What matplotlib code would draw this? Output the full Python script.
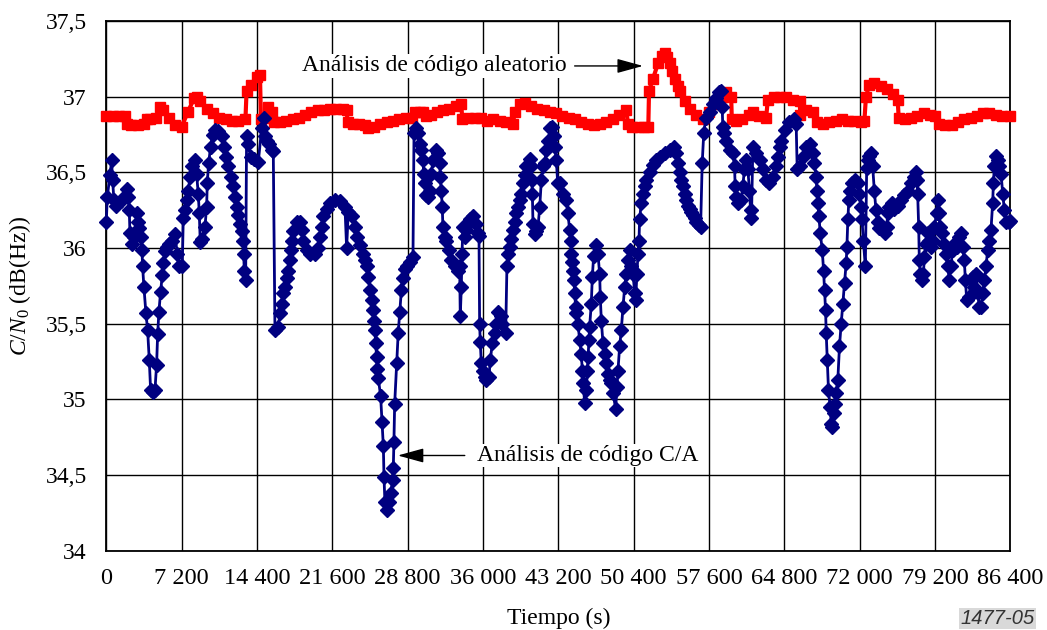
import matplotlib
matplotlib.use('Agg')
import matplotlib.pyplot as plt

# ---------------- data ----------------
t_ca = [0, 100, 350, 510, 600, 730, 920, 1150, 1370, 1620, 1940, 2100, 2200, 2260, 2490, 2680, 2960, 3060, 3150, 3280,
        3410, 3470, 3600, 3790, 3950, 4110, 4240, 4430, 4650, 4810, 4910, 5030, 5190, 5350, 5450, 5610, 5770, 5990, 6240, 6560,
        6790, 6950, 7260, 7360, 7520, 7680, 7840, 8000, 8220, 8470, 8630, 8790, 8890, 8980, 9180, 9430, 9590, 9650, 9780, 9970,
        10160, 10390, 10700, 11020, 11250, 11440, 11660, 11920, 12140, 12300, 12460, 12620, 12780, 12940, 13030, 13130, 13190, 13320, 13410, 13570,
        13800, 14110, 14530, 14850, 15070, 15160, 15320, 15580, 15800, 15960, 16120, 16440, 16600, 16760, 16920, 17080, 17240, 17390, 17550, 17620,
        17710, 17870, 18190, 18510, 18670, 18830, 19150, 19470, 19940, 20260, 20420, 20580, 20740, 21060, 21380, 21850, 22330, 22810, 22970, 23130,
        23450, 23770, 23990, 24250, 24560, 24720, 24880, 25040, 25200, 25360, 25460, 25580, 25680, 25740, 25840, 25900, 26000, 26220, 26350, 26480,
        26540, 26630, 26790, 27050, 27180, 27370, 27430, 27490, 27560, 27750, 27900, 28050, 28200, 28320, 28550, 28710, 28990, 29310, 29410, 29630,
        29790, 29950, 30110, 30270, 30330, 30430, 30520, 30740, 30900, 31060, 31220, 31480, 31700, 31860, 31920, 32020, 32110, 32170, 32340, 32500,
        32750, 32970, 33290, 33610, 33770, 33830, 33930, 33990, 34090, 34250, 34410, 34570, 34790, 35040, 35360, 35520, 35620, 35680, 35740, 35840,
        36000, 36160, 36320, 36570, 36700, 36890, 37120, 37270, 37470, 37690, 37850, 38170, 38290, 38390, 38550, 38710, 38870, 39030, 39190, 39350,
        39510, 39660, 39820, 39980, 40140, 40460, 40560, 40650, 40720, 40780, 40940, 41100, 41260, 41420, 41580, 41740, 41900, 42050, 42210, 42440,
        42630, 42750, 42880, 43010, 43140, 43330, 43650, 43960, 44120, 44280, 44380, 44440, 44540, 44600, 44700, 44760, 44860, 44920, 45080, 45240,
        45400, 45490, 45560, 45720, 45880, 45970, 46040, 46130, 46190, 46350, 46450, 46580, 46830, 46990, 47150, 47210, 47310, 47470, 47630, 47790,
        47950, 48110, 48270, 48430, 48680, 48810, 48900, 49060, 49220, 49380, 49540, 49700, 49860, 50020, 50180, 50340, 50500, 50590, 50720, 50810,
        50910, 50970, 51130, 51290, 51450, 51610, 51930, 52250, 52570, 52890, 53360, 53840, 54220, 54410, 54640, 54800, 54960, 55120, 55270, 55430,
        55590, 55750, 55910, 56070, 56230, 56390, 56650, 56800, 56950, 57100, 57300, 57650, 58000, 58300, 58600, 58760, 58860, 58920, 59080, 59240,
        59560, 59880, 60040, 60100, 60200, 60360, 60670, 60830, 60990, 61150, 61310, 61470, 61570, 61660, 61790, 62110, 62430, 62740, 63060, 63380,
        63700, 64020, 64180, 64340, 64500, 64820, 65290, 65770, 65930, 66030, 66250, 66570, 66890, 67210, 67530, 67680, 67840, 67910, 68000, 68100,
        68230, 68420, 68550, 68640, 68740, 68800, 68900, 69020, 69180, 69280, 69370, 69500, 69600, 69750, 69910, 70070, 70230, 70390, 70550, 70710,
        70780, 70870, 70970, 71100, 71290, 71510, 71830, 71970, 72130, 72220, 72350, 72540, 72670, 72760, 72920, 73080, 73240, 73400, 73560, 73720,
        73880, 74200, 74450, 74580, 74680, 74840, 75090, 75310, 75630, 75950, 76270, 76590, 76910, 77230, 77380, 77480, 77540, 77640, 77700, 77800,
        77960, 78090, 78180, 78340, 78500, 78660, 78820, 78980, 79140, 79360, 79460, 79550, 79680, 79870, 80030, 80250, 80410, 80570, 80730, 80890,
        81050, 81270, 81530, 81690, 81840, 82000, 82100, 82230, 82480, 82640, 82800, 82960, 83120, 83280, 83440, 83600, 83760, 83920, 84080, 84230,
        84390, 84550, 84710, 84780, 84870, 85030, 85190, 85350, 85510, 85670, 85830, 85990, 86240, 86400]
v_ca = [36.17, 36.34, 36.48, 36.58, 36.45, 36.32, 36.28, 36.30, 36.31, 36.33, 36.39, 36.34, 36.25, 36.10, 36.03, 36.07, 36.23, 36.17, 36.13, 36.07,
        35.99, 35.88, 35.74, 35.57, 35.46, 35.26, 35.06, 35.05, 35.06, 35.23, 35.43, 35.58, 35.71, 35.82, 35.90, 35.98, 36.01, 36.03, 36.05, 36.09,
        35.96, 35.88, 35.88, 36.20, 36.25, 36.32, 36.38, 36.47, 36.54, 36.58, 36.49, 36.36, 36.23, 36.04, 36.06, 36.14, 36.27, 36.43, 36.56, 36.67,
        36.75, 36.78, 36.77, 36.74, 36.67, 36.60, 36.54, 36.47, 36.41, 36.34, 36.27, 36.22, 36.16, 36.11, 36.05, 35.96, 35.85, 35.79, 36.74, 36.69,
        36.60, 36.59, 36.57, 36.79, 36.86, 36.74, 36.71, 36.69, 36.65, 36.64, 35.46, 35.48, 35.57, 35.63, 35.70, 35.74, 35.80, 35.85, 35.92, 35.99,
        36.05, 36.11, 36.17, 36.17, 36.12, 36.05, 35.99, 35.96, 35.96, 36.00, 36.07, 36.14, 36.21, 36.26, 36.30, 36.32, 36.31, 36.27, 36.00, 36.24,
        36.21, 36.14, 36.07, 36.02, 35.96, 35.92, 35.88, 35.81, 35.72, 35.66, 35.59, 35.52, 35.46, 35.37, 35.28, 35.20, 35.14, 35.02, 34.85, 34.69,
        34.49, 34.32, 34.27, 34.32, 34.38, 34.47, 34.55, 34.72, 34.97, 35.24, 35.44, 35.58, 35.72, 35.80, 35.86, 35.88, 35.91, 35.94, 36.76, 36.79,
        36.76, 36.69, 36.65, 36.58, 36.49, 36.43, 36.35, 36.34, 36.38, 36.49, 36.58, 36.65, 36.63, 36.56, 36.47, 36.38, 36.27, 36.14, 36.07, 36.05,
        35.99, 35.92, 35.88, 35.85, 35.88, 35.55, 35.74, 35.96, 36.14, 36.07, 36.12, 36.16, 36.19, 36.21, 36.16, 36.10, 36.08, 35.50, 35.38, 35.24,
        35.19, 35.15, 35.13, 35.15, 35.26, 35.37, 35.44, 35.50, 35.58, 35.55, 35.50, 35.44, 35.88, 35.96, 36.01, 36.06, 36.12, 36.17, 36.23, 36.27,
        36.32, 36.36, 36.43, 36.48, 36.54, 36.59, 36.54, 36.45, 36.36, 36.16, 36.09, 36.11, 36.14, 36.27, 36.45, 36.54, 36.56, 36.65, 36.71, 36.79,
        36.80, 36.74, 36.67, 36.58, 36.43, 36.43, 36.36, 36.32, 36.23, 36.12, 36.05, 35.96, 35.91, 35.85, 35.79, 35.70, 35.61, 35.57, 35.50, 35.39,
        35.30, 35.19, 35.11, 34.98, 35.06, 35.19, 35.28, 35.39, 35.48, 35.63, 35.81, 35.95, 36.02, 35.96, 35.83, 35.68, 35.52, 35.37, 35.30, 35.24,
        35.17, 35.13, 35.11, 35.04, 34.94, 35.08, 35.19, 35.35, 35.46, 35.61, 35.74, 35.83, 35.92, 35.99, 35.88, 35.83, 35.70, 35.66, 35.83, 35.96,
        36.05, 36.19, 36.30, 36.36, 36.41, 36.45, 36.50, 36.55, 36.58, 36.60, 36.63, 36.65, 36.67, 36.63, 36.56, 36.50, 36.45, 36.41, 36.36, 36.32,
        36.28, 36.26, 36.24, 36.22, 36.20, 36.17, 36.15, 36.14, 36.56, 36.76, 36.86, 36.90, 36.95, 36.99, 37.03, 37.04, 36.93, 36.80, 36.76, 36.71,
        36.65, 36.63, 36.54, 36.41, 36.34, 36.30, 36.32, 36.41, 36.52, 36.58, 36.52, 36.38, 36.25, 36.20, 36.67, 36.63, 36.58, 36.52, 36.45, 36.43,
        36.47, 36.54, 36.60, 36.67, 36.71, 36.78, 36.83, 36.85, 36.82, 36.52, 36.54, 36.60, 36.67, 36.69, 36.63, 36.56, 36.47, 36.38, 36.30, 36.21,
        36.10, 35.99, 35.85, 35.72, 35.59, 35.44, 35.26, 35.06, 34.95, 34.84, 34.82, 34.91, 34.97, 35.04, 35.13, 35.35, 35.50, 35.63, 35.77, 35.90,
        36.01, 36.19, 36.32, 36.38, 36.43, 36.45, 36.43, 36.36, 36.27, 36.19, 36.05, 35.88, 36.53, 36.58, 36.61, 36.63, 36.54, 36.38, 36.25, 36.17,
        36.13, 36.12, 36.10, 36.14, 36.23, 36.27, 36.30, 36.26, 36.28, 36.32, 36.35, 36.38, 36.43, 36.47, 36.50, 36.45, 36.36, 36.14, 35.92, 35.83,
        35.79, 35.83, 35.94, 36.03, 36.10, 36.05, 36.01, 36.05, 36.14, 36.23, 36.32, 36.23, 36.14, 36.10, 36.03, 35.96, 35.88, 35.79, 35.88, 35.99,
        36.03, 36.01, 36.07, 36.10, 36.01, 35.92, 35.79, 35.66, 35.68, 35.79, 35.81, 35.74, 35.83, 35.70, 35.61, 35.61, 35.70, 35.79, 35.88, 35.99,
        36.05, 36.12, 36.30, 36.43, 36.54, 36.61, 36.58, 36.54, 36.49, 36.36, 36.25, 36.17, 36.17, 36.18]

t_rand = [0, 600, 1200, 1800, 2010, 2400, 3000, 3600, 3850, 4200, 4800, 5100, 5400, 6000, 6600, 7200, 7800, 8400, 8700, 9000,
          9600, 10200, 10800, 11400, 12000, 12600, 13300, 13410, 13800, 14400, 14690, 14780, 15160, 15480, 15800, 16020, 16600, 17200, 17800, 18400,
          19000, 19600, 20200, 20800, 21400, 22000, 22600, 22970, 23070, 23600, 24200, 24720, 25040, 25600, 26200, 26800, 27400, 28000, 28600, 29200,
          29470, 30000, 30270, 30520, 31000, 31600, 32200, 32800, 33400, 33930, 34020, 34600, 35200, 35800, 36400, 37000, 37600, 38200, 38870, 39030,
          39500, 40000, 40600, 41200, 41800, 42400, 43000, 43600, 44200, 44800, 45400, 46000, 46600, 47200, 47800, 48400, 49000, 49700, 49860, 50200,
          50800, 51400, 51800, 51870, 52250, 52730, 53100, 53360, 53600, 53840, 54100, 54320, 54600, 54800, 55270, 55750, 56390, 57000, 57600, 58200,
          58800, 59240, 59720, 59780, 60200, 60800, 61400, 61800, 62400, 63060, 63220, 63800, 64400, 65000, 65600, 66250, 66340, 66900, 67500, 67900,
          68500, 69100, 69700, 70300, 70900, 71500, 72100, 72450, 72600, 72920, 73400, 74000, 74600, 75200, 75630, 75730, 76300, 76900, 77500, 78100,
          78700, 79200, 79610, 80200, 80800, 81400, 82000, 82600, 83200, 83760, 84400, 85000, 85600, 86400]
v_rand = [36.87, 36.87, 36.87, 36.87, 36.82, 36.81, 36.81, 36.82, 36.85, 36.85, 36.86, 36.93, 36.91, 36.86, 36.81, 36.80, 36.90, 36.99, 37.00, 36.97,
          36.92, 36.89, 36.86, 36.85, 36.84, 36.84, 36.85, 37.04, 37.08, 37.13, 37.14, 36.85, 36.86, 36.93, 36.90, 36.83, 36.83, 36.84, 36.85, 36.86,
          36.88, 36.90, 36.91, 36.91, 36.92, 36.92, 36.92, 36.91, 36.83, 36.82, 36.82, 36.81, 36.79, 36.80, 36.82, 36.83, 36.84, 36.85, 36.86, 36.86,
          36.90, 36.90, 36.90, 36.87, 36.88, 36.90, 36.91, 36.92, 36.94, 36.95, 36.85, 36.86, 36.86, 36.86, 36.84, 36.85, 36.84, 36.83, 36.82, 36.90,
          36.95, 36.96, 36.94, 36.92, 36.91, 36.90, 36.89, 36.87, 36.86, 36.85, 36.83, 36.82, 36.81, 36.82, 36.83, 36.85, 36.88, 36.91, 36.82, 36.80,
          36.80, 36.80, 36.80, 37.04, 37.12, 37.22, 37.27, 37.29, 37.26, 37.22, 37.17, 37.12, 37.07, 37.04, 36.97, 36.92, 36.88, 36.85, 36.90, 36.95,
          37.00, 37.03, 37.00, 36.85, 36.84, 36.85, 36.88, 36.90, 36.87, 36.86, 36.98, 37.00, 37.00, 37.00, 36.98, 36.97, 36.88, 36.91, 36.90, 36.83,
          36.82, 36.83, 36.84, 36.85, 36.84, 36.84, 36.83, 36.84, 37.00, 37.08, 37.09, 37.07, 37.05, 37.02, 36.98, 36.86, 36.85, 36.86, 36.87, 36.89,
          36.88, 36.87, 36.82, 36.81, 36.81, 36.83, 36.85, 36.86, 36.87, 36.89, 36.89, 36.88, 36.87, 36.87]

x_ticks = [0, 7200, 14400, 21600, 28800, 36000, 43200, 50400, 57600, 64800, 72000, 79200, 86400]
x_tick_labels = ['0', '7 200', '14 400', '21 600', '28 800', '36 000', '43 200', '50 400',
                 '57 600', '64 800', '72 000', '79 200', '86 400']
y_ticks = [34, 34.5, 35, 35.5, 36, 36.5, 37, 37.5]
y_tick_labels = ['34', '34,5', '35', '35,5', '36', '36,5', '37', '37,5']

label_rand = 'Análisis de código aleatorio'
label_ca = 'Análisis de código C/A'

# ---------------- plot ----------------
plt.rcParams['font.family'] = ['Liberation Serif', 'DejaVu Serif']
plt.rcParams['mathtext.fontset'] = 'custom'
plt.rcParams['mathtext.rm'] = 'Liberation Serif'
plt.rcParams['mathtext.it'] = 'Liberation Serif:italic'

fig = plt.figure(figsize=(10.47, 6.30), dpi=100)
ax = fig.add_axes([0.1015, 0.1256, 0.8635, 0.8411])

ax.plot(t_rand, v_rand, color='#FF0000', lw=3, marker='s', ms=7.5, mec='#FF0000', zorder=3, clip_on=False)
ax.plot(t_ca, v_ca, color='#000080', lw=2, marker='D', ms=7, mec='#000080', zorder=4, clip_on=False)

ax.set_xlim(0, 86400)
ax.set_ylim(34, 37.5)
ax.set_xticks(x_ticks)
ax.set_xticklabels(x_tick_labels)
ax.set_yticks(y_ticks)
ax.set_yticklabels(y_tick_labels)
ax.grid(True, color='black', lw=1)
ax.set_axisbelow(True)
ax.tick_params(length=0, labelsize=17)
ax.tick_params(axis='x', pad=12, labelsize=17.5)
ax.tick_params(axis='y', pad=14)
for s in ax.spines.values():
    s.set_linewidth(1.3)
    s.set_color('black')

ax.set_xlabel('Tiempo (s)', fontsize=17, labelpad=14)
ax.set_ylabel(r'$C/N_0$ (dB(Hz))', fontsize=17, labelpad=9)

ax.annotate('', xy=(51290, 37.203), xytext=(44760, 37.203),
            arrowprops=dict(arrowstyle='-|>,head_length=0.8,head_width=0.22', color='black', lw=1,
                            mutation_scale=20, shrinkA=0, shrinkB=0), zorder=6)
ax.text(43990, 37.203, label_rand, ha='right', va='center', fontsize=17, zorder=6,
        bbox=dict(facecolor='white', edgecolor='none', pad=1))

ax.annotate('', xy=(27860, 34.63), xytext=(34260, 34.63),
            arrowprops=dict(arrowstyle='-|>,head_length=0.8,head_width=0.22', color='black', lw=1,
                            mutation_scale=20, shrinkA=0, shrinkB=0), zorder=6)
ax.text(35400, 34.63, label_ca, ha='left', va='center', fontsize=17, zorder=6,
        bbox=dict(facecolor='white', edgecolor='none', pad=1))

fig.text(960 / 1047, 2 / 630, '1477-05', fontsize=14.5, style='italic', family='Liberation Sans',
         color='#333333', ha='left', va='bottom',
         bbox=dict(facecolor='#d9d9d9', edgecolor='none', pad=1))

fig.savefig('out.png', dpi=100)
